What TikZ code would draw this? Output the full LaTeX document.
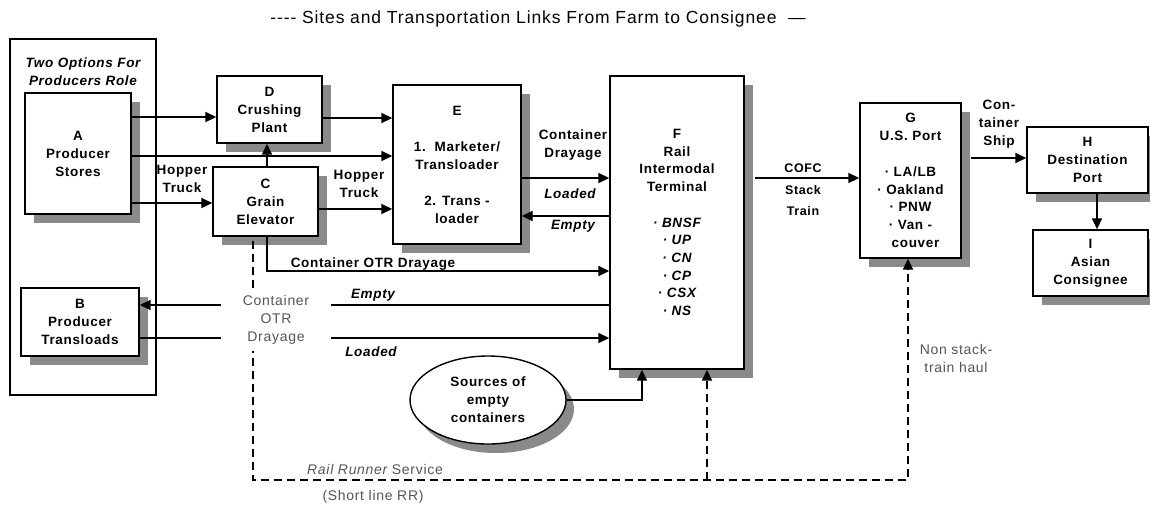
\documentclass[tikz,border=0pt]{standalone}
\usepackage{fontspec}
\setmainfont{Liberation Sans}[LetterSpace=5]
\usetikzlibrary{arrows.meta,shadows,shapes.geometric,calc}
\definecolor{shadowgray}{HTML}{8A8A8A}
\definecolor{textgray}{HTML}{555555}
\begin{document}
\begin{tikzpicture}[x=1pt,y=-1pt,
 box/.style={draw,line width=1.4pt,fill=white,align=center,inner sep=0pt,
   drop shadow={shadow xshift=9pt,shadow yshift=-9pt,fill=shadowgray,opacity=1},
   font=\bfseries\fontsize{13.5}{18}\selectfont},
 arr/.style={line width=1.7pt,-{Triangle[length=11pt,width=10pt]}},
 ln/.style={line width=1.7pt},
 dsh/.style={line width=1.7pt,dash pattern=on 8pt off 5pt},
 lbl/.style={font=\bfseries\fontsize{13.5}{18}\selectfont,align=center,inner sep=0pt},
 ilbl/.style={font=\bfseries\itshape\fontsize{13.5}{18}\selectfont,align=center,inner sep=0pt},
 glbl/.style={font=\fontsize{14}{18}\selectfont,text=textgray,align=center,inner sep=0pt},
]
\useasboundingbox (0,0) rectangle (1150,504);

% title
\node[font=\fontsize{17.5}{20}\selectfont,inner sep=0pt] (title) at (538,19)
  {{-}{-}{-}{-} Sites and Transportation Links From Farm to Consignee\ \ —};

% outer producer frame
\node[draw,line width=2pt,minimum width=146pt,minimum height=356pt,inner sep=0pt] (outer) at (83,217) {};
\node[ilbl] (opt) at (83,72) {Two Options For\\Producers Role};

% boxes
\node[box,minimum width=106pt,minimum height=121pt] (A) at (78,153.5) {A\\Producer\\Stores};
\node[box,minimum width=118pt,minimum height=68pt] (B) at (80,322) {B\\Producer\\Transloads};
\node[box,minimum width=105pt,minimum height=67pt] (D) at (269.5,109.5) {D\\Crushing\\Plant};
\node[box,minimum width=105pt,minimum height=69pt] (C) at (265.5,201.5) {C\\Grain\\Elevator};
\node[box,minimum width=128pt,minimum height=159pt] (E) at (457,164.5)
  {E\\\mbox{}\\1.\ \ Marketer/\\Transloader\\\mbox{}\\2. Trans -\\loader};
\node[box,minimum width=134pt,minimum height=293pt,font=\bfseries\fontsize{13.5}{17.7}\selectfont] (F) at (677,222.5)
  {F\\Rail\\Intermodal\\Terminal\\\mbox{}\\\itshape · BNSF\\\itshape · UP\\\itshape · CN\\\itshape · CP\\\itshape · CSX\\\itshape · NS};
\node[box,minimum width=101pt,minimum height=155pt,font=\bfseries\fontsize{13.5}{17.8}\selectfont] (G) at (910.5,180.5)
  {G\\U.S. Port\\\mbox{}\\· LA/LB\\· Oakland\\· PNW\\· Van -\\\hspace*{10pt}couver};
\node[box,minimum width=121pt,minimum height=66pt] (H) at (1087.5,160) {H\\Destination\\Port};
\node[box,minimum width=115pt,minimum height=66pt] (I) at (1090.5,263) {I\\Asian\\Consignee};
\node[ellipse,draw,line width=1.4pt,fill=white,minimum width=156pt,minimum height=88pt,inner sep=0pt,
  align=center,font=\bfseries\fontsize{13.5}{18}\selectfont,
  drop shadow={shadow xshift=8pt,shadow yshift=-9pt,fill=shadowgray,opacity=1}] (S) at (488,400)
  {Sources of\\empty\\containers};

% solid connectors
\draw[arr] (A.east |- 0,117) -- (D.west |- 0,117);
\draw[arr] (A.east |- 0,156) -- (E.west |- 0,156);
\draw[arr] (A.east |- 0,203) -- (C.west |- 0,203);
\draw[arr] (C.north -| 267,0) -- (D.south -| 267,0);
\draw[arr] (D.east |- 0,118) -- (E.west |- 0,118);
\draw[arr] (C.east |- 0,209) -- (E.west |- 0,209);
\draw[arr] (E.east |- 0,178) -- (F.west |- 0,178);
\draw[arr] (F.west |- 0,216) -- (E.east |- 0,216);
\draw[arr] (C.south -| 267,0) |- (F.west |- 0,271);
\draw[arr] (F.west |- 0,305) -- (B.east |- 0,305);
\draw[arr] (B.east |- 0,338) -- (F.west |- 0,338);
\draw[arr] (S.east) -| (F.south -| 642,0);
\draw[arr] ($(F.east |- 0,178)+(10,0)$) -- (G.west |- 0,178);
\draw[arr] ($(G.east |- 0,158)+(9,0)$) -- (H.west |- 0,158);
\draw[arr] (H.south -| 1097,0) -- (I.north -| 1097,0);

% dashed rail runner
\coordinate (rrL) at (253,480);
\coordinate (rrM) at (707,480);
\coordinate (rrR) at (908,480);
\draw[dsh,-{Triangle[length=11pt,width=10pt]}] ($(C.south -| rrL)+(0,4)$) -- (rrL) -- (rrR) -- (G.south -| rrR);
\draw[dsh,-{Triangle[length=11pt,width=10pt]}] (rrM) -- (F.south -| rrM);

% labels
\node[lbl] (ht1) at (182,179) {Hopper\\Truck};
\node[lbl] (ht2) at (359,184) {Hopper\\Truck};
\node[lbl] (cd) at (573,145) {Container\\Drayage};
\node[ilbl] (ld1) at (570,194) {Loaded};
\node[ilbl] (em1) at (573,226) {Empty};
\node[lbl] (otr) at (373,264) {Container OTR Drayage};
\node[ilbl] (em2) at (373,295) {Empty};
\node[ilbl] (ld2) at (371,352) {Loaded};
\node[lbl,font=\bfseries\fontsize{12.5}{21.5}\selectfont] (cofc) at (803,190) {COFC\\Stack\\Train};
\node[lbl] (cs) at (999,124.5) {Con-\\tainer\\Ship};
\node[glbl,fill=white,minimum width=110pt,inner ysep=6pt] (otrg) at (276,320) {Container\\OTR\\Drayage};
\node[glbl] (rr) at (375,469) {\itshape Rail Runner\upshape{} Service};
\node[glbl] (sl) at (373,497) {(Short line RR)};
\node[glbl] (ns) at (956,358) {Non stack-\\train haul};
\end{tikzpicture}
\end{document}
